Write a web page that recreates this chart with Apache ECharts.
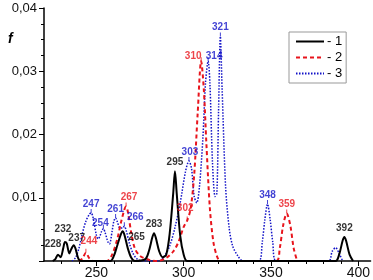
<!DOCTYPE html>
<html>
<head>
<meta charset="utf-8">
<script src="https://cdn.jsdelivr.net/npm/echarts@6/dist/echarts.min.js"></script>
<style>
  html, body { margin: 0; padding: 0; background: #fff; }
  #chart { width: 373px; height: 280px; }
</style>
</head>
<body>
<div id="chart"></div>
<script>
// spectrum curves: [wavelength, f]
var curve1 = [[225,0],[226.5,0.0003],[228,0.001],[229.5,0.0006],[231,0.002],[232,0.003],[233,0.0028],[234.5,0.0012],
  [235.5,0.0018],[237,0.0025],[238,0.002],[239.5,0.0005],[241,0],[258,0],[260,0.0008],[262,0.0025],[264,0.0042],
  [265,0.0047],[266,0.0042],[268,0.002],[270,0.0005],[272,0],[278,0.0003],[280,0.0015],[282,0.0037],[283,0.0044],
  [284,0.0037],[286,0.0015],[288,0.0006],[290,0.001],[292,0.0044],[294,0.0107],[295,0.0142],[296,0.0107],[298,0.004],
  [300,0.001],[302,0],[387,0],[389,0.001],[391,0.0032],[392,0.0038],[393,0.0032],[395,0.001],[397,0]];

var curve2 = [[240,0],[242,0.0004],[244,0.0013],[246,0.0004],[248,0],[256,0],[259,0.001],[262,0.0035],[264,0.006],
  [266,0.0081],[267,0.0086],[268,0.0078],[270,0.0044],[272,0.002],[275,0.0008],[280,0.0002],[285,0],[290,0.0005],
  [294,0.0015],[297,0.003],[300,0.0054],[302,0.0064],[304,0.0083],[306,0.0136],[308,0.0233],[310,0.0316],[311.5,0.0272],
  [313,0.0185],[315,0.0083],[317,0.003],[319,0.0008],[321,0],[353,0],[355,0.002],[357,0.0057],[359,0.0075],
  [361,0.0057],[363,0.002],[365,0]];

var curve3 = [[236,0],[238,0.0005],[240,0.002],[242,0.0044],[244,0.0063],[246,0.0074],[247,0.0076],[248,0.007],
  [250,0.0041],[251,0.0035],[252,0.0039],[253,0.0047],[254,0.0051],[255,0.0045],[256.5,0.0031],[257.5,0.0027],
  [259,0.0047],[260,0.0063],[261,0.0068],[262,0.0062],[263.5,0.0052],[265,0.0052],[266,0.0055],[267,0.0049],
  [269,0.0027],[271,0.0012],[273,0.0004],[276,0],[286,0],[289,0.0008],[292,0.0024],[295,0.0053],[298,0.0092],
  [301,0.0141],[303,0.0158],[304.5,0.0146],[306,0.0102],[307.5,0.0092],[309,0.0117],[311,0.0195],[312.5,0.0282],
  [314,0.0316],[315,0.0282],[316.5,0.0155],[318,0.0102],[319,0.0107],[320,0.0243],[321,0.0355],[322,0.0272],[324,0.0117],
  [326,0.0053],[328,0.0024],[331,0.0008],[334,0],[343,0],[345,0.003],[346.5,0.0066],[348,0.009],[349.5,0.0066],
  [351,0.003],[353,0],[383,0],[385,0.0015],[387,0.0021],[389,0.0012],[391,0]];

// labelled peaks
var peaks1 = [[228,0.001],[232,0.003],[237,0.0025],[265,0.0047],[283,0.0044],[295,0.0142],[392,0.0038]];
var peaks2 = [[244,0.0013],[267,0.0086],[302,0.0064],[310,0.0316],[359,0.0075]];
var peaks3 = [[247,0.0076],[254,0.0051],[261,0.0068],[266,0.0055],[303,0.0158],[314,0.0316],[321,0.0355],[348,0.009]];

var seriesNames = ['1', '2', '3'];
var xLabels = [250, 300, 350, 400];
var yLabels = [0.01, 0.02, 0.03, 0.04];

// label nudges (px)
var nudge = { '228': [-5, -2], '232': [-2, -4], '237': [3, 2], '265': [14, 14], '244': [3, -3], '254': [-3, 4],
  '267': [3, 0], '302': [-2, -3], '310': [-8, 4], '314': [6, 4], '266': [11, 0], '303': [1, 0] };

var colors = ['#000000', '#e8141c', '#1212c8'];
var minorX = [];
for (var t = 230; t <= 400; t += 10) minorX.push(t);

function peakSeries(peaks, color, withStroke) {
  return {
    type: 'scatter',
    silent: true,
    symbol: withStroke ? 'rect' : 'circle',
    symbolSize: withStroke ? [1, 4] : 1,
    symbolOffset: withStroke ? [0, -2] : [0, 0],
    itemStyle: { color: withStroke ? color : 'transparent' },
    label: {
      show: true,
      position: 'top',
      distance: withStroke ? 0 : 3,
      color: color,
      fontFamily: 'Liberation Sans, Arial, sans-serif',
      fontWeight: 'bold',
      fontSize: 10,
      formatter: function(p) { return String(p.value[0]); }
    },
    data: peaks.map(function(p) {
      var item = { value: p };
      var k = String(p[0]);
      if (nudge[k]) item.label = { offset: nudge[k] };
      return item;
    }),
    z: 5
  };
}

var myChart = echarts.init(document.getElementById('chart'));

var option = {
  animation: false,
  title: {
    text: 'f', left: 3, top: 27,
    textStyle: { fontFamily: 'Liberation Sans, Arial, sans-serif', fontStyle: 'italic', fontWeight: 'bold', fontSize: 14, color: '#000' }
  },
  grid: { left: 44, right: 0, top: 8, bottom: 16 },
  legend: {
    data: seriesNames,
    orient: 'vertical',
    left: 289, top: 32,
    itemWidth: 28, itemHeight: 12, itemGap: 3,
    padding: [3, 4, 3, 6],
    borderColor: '#999', borderWidth: 1,
    itemStyle: { opacity: 0 },
    formatter: '- {name}',
    textStyle: { fontFamily: 'Liberation Sans, Arial, sans-serif', fontSize: 13, color: '#000', padding: [0, 0, 0, -2] }
  },
  xAxis: [{
    type: 'value', min: 220, max: 407,
    axisLine: { lineStyle: { color: '#000', width: 1.5 } },
    axisTick: { customValues: minorX, length: 3, lineStyle: { color: '#000' } },
    axisLabel: { show: false },
    splitLine: { show: false }
  }, {
    type: 'value', min: 220, max: 407, position: 'bottom',
    axisLine: { show: false },
    axisTick: { customValues: xLabels, length: 5, lineStyle: { color: '#000' } },
    axisLabel: { customValues: xLabels, margin: 5, color: '#111', fontSize: 14, fontFamily: 'Liberation Sans, Arial, sans-serif' },
    splitLine: { show: false }
  }],
  yAxis: {
    type: 'value', min: 0, max: 0.04, interval: 0.01,
    axisLine: { show: true, lineStyle: { color: '#000', width: 1.5 } },
    axisTick: { show: true, length: 5, lineStyle: { color: '#000' } },
    minorTick: { show: true, splitNumber: 4, length: 3, lineStyle: { color: '#000' } },
    axisLabel: {
      margin: 7, color: '#111', fontSize: 13, fontFamily: 'Liberation Sans, Arial, sans-serif',
      formatter: function(v) { return yLabels.indexOf(+v.toFixed(2)) < 0 ? '' : v.toFixed(2).replace('.', ','); }
    },
    splitLine: { show: false }
  },
  series: [{
    name: seriesNames[0], type: 'line', symbol: 'none', smooth: 0.3, data: curve1,
    lineStyle: { color: colors[0], width: 2 }, itemStyle: { color: colors[0] }, z: 4
  }, {
    name: seriesNames[1], type: 'line', symbol: 'none', smooth: 0.3, data: curve2,
    lineStyle: { color: colors[1], width: 2, type: [4, 3] }, itemStyle: { color: colors[1] }, z: 3
  }, {
    name: seriesNames[2], type: 'line', symbol: 'none', smooth: 0.3, data: curve3,
    lineStyle: { color: colors[2], width: 1.5, type: [1.5, 1.5] }, itemStyle: { color: colors[2] }, z: 2
  },
    peakSeries(peaks1, colors[0], false),
    peakSeries(peaks2, colors[1], true),
    peakSeries(peaks3, colors[2], true)
  ]
};

myChart.setOption(option);
</script>
</body>
</html>
